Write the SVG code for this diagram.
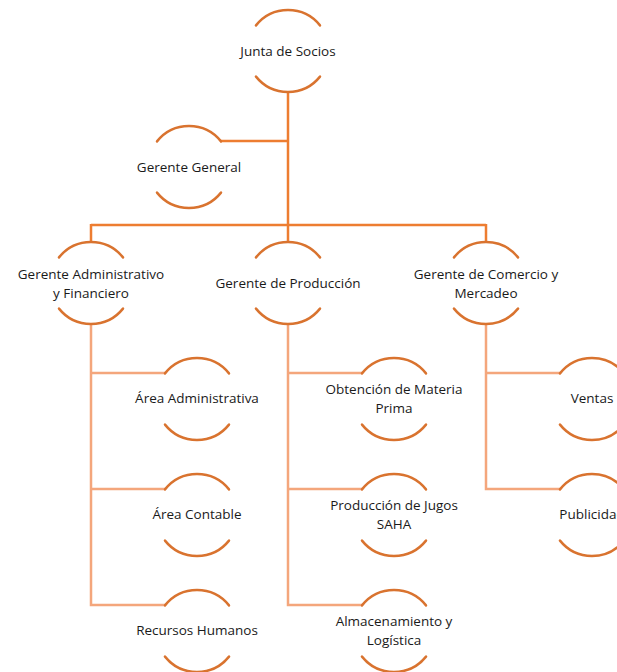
<svg xmlns="http://www.w3.org/2000/svg" width="617" height="672" viewBox="0 0 617 672">
<style>
.arc{fill:none;stroke:#D9732F;stroke-width:2.5;stroke-linecap:round}
.c1{fill:none;stroke:#ED7D31;stroke-width:2.5}
.c2{fill:none;stroke:#F4A67C;stroke-width:2.5}
text{font-family:"Open Sans","Liberation Sans",Arial,sans-serif;font-size:13.5px;fill:#1a1a1a;text-anchor:middle}
</style>
<defs>
<g id="ring">
<path class="arc" d="M-32,-25.6 A41,41 0 0 1 32,-25.6"/>
<path class="arc" d="M-32,25.6 A41,41 0 0 0 32,25.6"/>
</g>
</defs>
<g id="connectors">
<path class="c1" d="M288,92 V242 M220,141 H288 M91,225 H486 M91,224 V242 M486,224 V242"/>
<path class="c2" d="M91,324 V605 H165 M91,373 H165 M91,489 H165"/>
<path class="c2" d="M288,324 V605 H362 M288,373 H362 M288,489 H362"/>
<path class="c2" d="M486,324 V489 H560 M486,373 H560"/>
</g>
<g id="junta"><use href="#ring" x="288" y="51"/><text x="288" y="56">Junta de Socios</text></g>
<g id="gerente-general"><use href="#ring" x="189" y="167"/><text x="189" y="172">Gerente General</text></g>
<g id="gerente-admin"><use href="#ring" x="91" y="283"/><text x="91" y="279">Gerente Administrativo</text><text x="91" y="298">y Financiero</text></g>
<g id="gerente-prod"><use href="#ring" x="288" y="283"/><text x="288" y="288">Gerente de Producción</text></g>
<g id="gerente-com"><use href="#ring" x="486" y="283"/><text x="486" y="279">Gerente de Comercio y</text><text x="486" y="298">Mercadeo</text></g>
<g id="area-admin"><use href="#ring" x="197" y="399"/><text x="197" y="403">Área Administrativa</text></g>
<g id="area-contable"><use href="#ring" x="197" y="515"/><text x="197" y="519">Área Contable</text></g>
<g id="recursos"><use href="#ring" x="197" y="631"/><text x="197" y="635">Recursos Humanos</text></g>
<g id="obtencion"><use href="#ring" x="394" y="399"/><text x="394" y="394">Obtención de Materia</text><text x="394" y="413">Prima</text></g>
<g id="produccion"><use href="#ring" x="394" y="515"/><text x="394" y="510">Producción de Jugos</text><text x="394" y="529">SAHA</text></g>
<g id="almacen"><use href="#ring" x="394" y="631"/><text x="394" y="626">Almacenamiento y</text><text x="394" y="645">Logística</text></g>
<g id="ventas"><use href="#ring" x="592" y="399"/><text x="592" y="403">Ventas</text></g>
<g id="publicidad"><use href="#ring" x="592" y="515"/><text x="592" y="519">Publicidad</text></g>
</svg>
